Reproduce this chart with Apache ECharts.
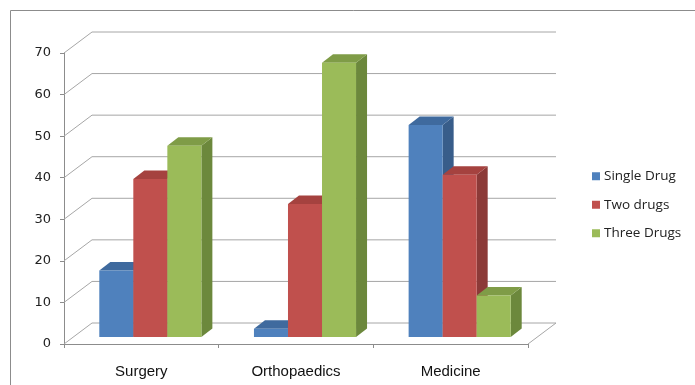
<!DOCTYPE html>
<html>
<head>
<meta charset="utf-8">
<script src="https://cdn.jsdelivr.net/npm/echarts@6/dist/echarts.min.js"></script>
<style>
  html, body { margin: 0; padding: 0; background: #fff; }
  #chart { width: 695px; height: 385px; }
</style>
</head>
<body>
<div id="chart"></div>
<script>
const categories = ['Surgery', 'Orthopaedics', 'Medicine']
const seriesNames = ['Single Drug', 'Two drugs', 'Three Drugs']
const singleDrug = [16, 2, 51]
const twoDrugs = [38, 32, 39]
const threeDrugs = [46, 66, 10]
const yTicks = [0, 10, 20, 30, 40, 50, 60, 70]

// front / side / top colours per series
const faceColors = [
    ['#4F81BD', '#385D8A', '#3F6A9E'],
    ['#C0504D', '#8C3A38', '#A5423F'],
    ['#9BBB59', '#6C883C', '#7F9C47']
]

// depth of the box (back wall offset) and of the bars
const WALL_DX = 28, WALL_DY = -21
const BAR_X0 = 9, BAR_Y0 = -7     // bars start this far into depth
const BAR_DX = 11, BAR_DY = -8.5  // depth of each bar
const BAR_FRAC = 0.22             // bar width as part of category width

function renderWall(params, api) {
    let v = api.value(0)
    let p0 = api.coord([0, v])
    let size = api.size([1, 0])
    let left = p0[0] - size[0] / 2
    let right = left + size[0] * categories.length
    let y = p0[1]
    let style = { stroke: '#A6A6A6', lineWidth: 1 }
    let children = [
        { type: 'line', shape: { x1: left, y1: y, x2: left + WALL_DX, y2: y + WALL_DY }, style: style },
        { type: 'line', shape: { x1: left + WALL_DX, y1: y + WALL_DY, x2: right + WALL_DX, y2: y + WALL_DY }, style: style }
    ]
    if (v === 0) {
        children.push({ type: 'line', shape: { x1: right, y1: y, x2: right + WALL_DX, y2: y + WALL_DY }, style: style })
    }
    return { type: 'group', children: children }
}

function makeBarRender(idx) {
    return function (params, api) {
        let c = api.value(0), v = api.value(1)
        let base = api.coord([c, 0])
        let top = api.coord([c, v])
        let cw = api.size([1, 0])[0]
        let bw = cw * BAR_FRAC
        let x0 = base[0] - bw * 1.5 + bw * idx + BAR_X0
        let yb = base[1] + BAR_Y0
        let yt = top[1] + BAR_Y0
        let col = faceColors[idx]
        return {
            type: 'group',
            children: [
                {
                    type: 'polygon',
                    shape: { points: [[x0 + bw, yt], [x0 + bw + BAR_DX, yt + BAR_DY], [x0 + bw + BAR_DX, yb + BAR_DY], [x0 + bw, yb]] },
                    style: { fill: col[1] }
                },
                {
                    type: 'polygon',
                    shape: { points: [[x0, yt], [x0 + bw, yt], [x0 + bw + BAR_DX, yt + BAR_DY], [x0 + BAR_DX, yt + BAR_DY]] },
                    style: { fill: col[2] }
                },
                {
                    type: 'rect',
                    shape: { x: x0, y: yt, width: bw, height: yb - yt },
                    style: { fill: col[0] }
                }
            ]
        }
    }
}

let chart = echarts.init(document.getElementById('chart'))
let values = [singleDrug, twoDrugs, threeDrugs]

let series = [{
    type: 'custom',
    name: 'walls',
    silent: true,
    z: 1,
    renderItem: renderWall,
    data: yTicks.map(t => [t])
}]
values.forEach((vals, i) => {
    series.push({
        type: 'custom',
        name: seriesNames[i],
        z: 2 + i,
        itemStyle: { color: faceColors[i][0] },
        renderItem: makeBarRender(i),
        encode: { x: 0, y: 1 },
        data: vals.map((v, c) => [c, v])
    })
})

let option = {
    animation: false,
    graphic: [{
        type: 'rect',
        shape: { x: 10.5, y: 10.5, width: 700, height: 400 },
        style: { fill: 'none', stroke: '#8C8C8C', lineWidth: 1 },
        z: 0
    }],
    grid: {
        left: 64,
        right: 167,
        top: 53,
        bottom: 41
    },
    legend: {
        data: seriesNames,
        orient: 'vertical',
        left: 592,
        top: 168,
        padding: 0,
        icon: 'rect',
        itemWidth: 8,
        itemHeight: 8,
        itemGap: 12,
        textStyle: {
            fontFamily: 'Open Sans',
            fontSize: 13.5,
            color: '#222',
            lineHeight: 16.5,
            padding: [0, 0, 0, -1]
        }
    },
    xAxis: {
        type: 'category',
        data: categories,
        axisLine: { lineStyle: { color: '#8C8C8C' } },
        axisTick: { show: true, length: 4, lineStyle: { color: '#8C8C8C' } },
        axisLabel: {
            fontFamily: 'Liberation Sans',
            fontSize: 15,
            color: '#111',
            margin: 20
        },
        splitLine: { show: false }
    },
    yAxis: {
        type: 'value',
        min: 0,
        max: 70,
        interval: 10,
        axisLine: { show: true, lineStyle: { color: '#8C8C8C' } },
        axisTick: { show: true, length: 4, lineStyle: { color: '#8C8C8C' } },
        axisLabel: {
            fontFamily: 'DejaVu Sans',
            fontSize: 13,
            color: '#222',
            margin: 13
        },
        splitLine: { show: false }
    },
    series: series
}

chart.setOption(option)
</script>
</body>
</html>
